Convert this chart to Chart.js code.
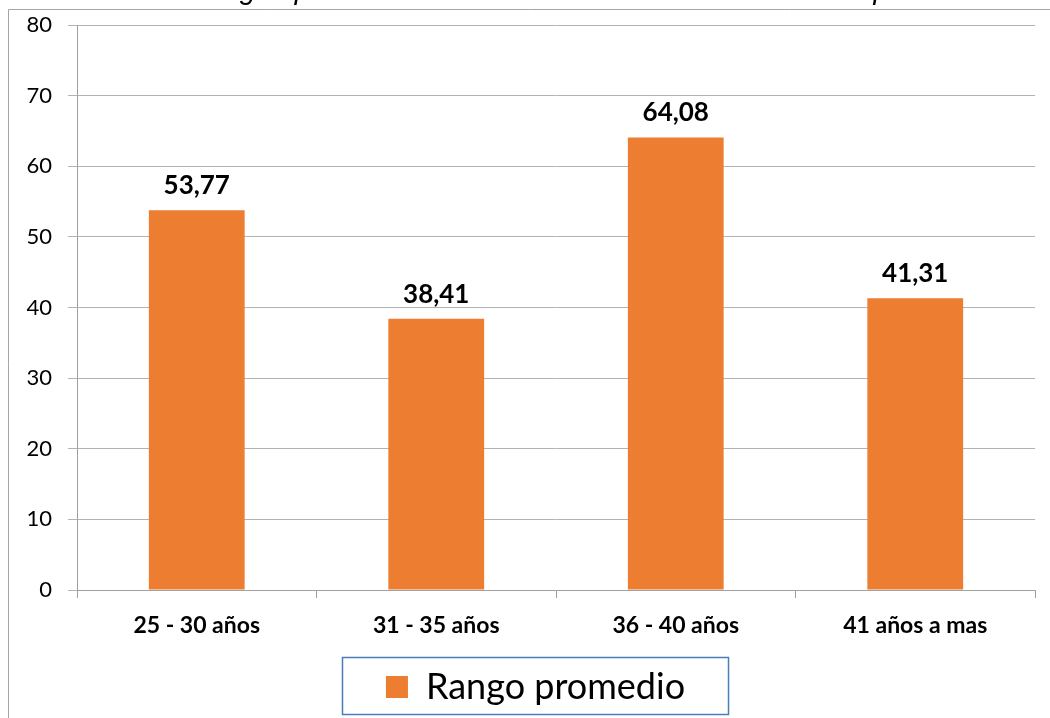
<!DOCTYPE html>
<html>
<head>
<meta charset="utf-8">
<script src="https://cdn.jsdelivr.net/npm/chart.js@4.4.1/dist/chart.umd.min.js"></script>
<style>
    html, body { margin: 0; padding: 0; background: #fff; }
    #wrap { width: 1050px; height: 718px; }
</style>
</head>
<body>
<div id="wrap"><canvas id="rangoChart" width="1050" height="718"></canvas></div>
<script>
// Datos
const categorias = ['25 - 30 años', '31 - 35 años', '36 - 40 años', '41 años a mas'];
const rangoPromedio = [53.77, 38.41, 64.08, 41.31];
const tituloGrafico = 'Rangos promedio de autoeficacia en el instrumento aplicado';
const serieNombre = 'Rango promedio';
const ejeYMin = 0;
const ejeYMax = 80;
const ejeYPaso = 10;

const naranja = '#ED7D31';

// Marco exterior y título (cortado arriba, como en la imagen)
const marcoPlugin = {
    id: 'marco',
    afterDraw(chart) {
        const ctx = chart.ctx;
        ctx.save();
        ctx.strokeStyle = '#a6a6a6';
        ctx.lineWidth = 1;
        ctx.beginPath();
        ctx.moveTo(8.5, chart.height);
        ctx.lineTo(8.5, 9.5);
        ctx.lineTo(chart.width, 9.5);
        ctx.stroke();

        ctx.fillStyle = '#000';
        ctx.font = 'italic 29px "Liberation Sans", Arial, sans-serif';
        ctx.textAlign = 'center';
        ctx.textBaseline = 'alphabetic';
        ctx.fillText(tituloGrafico, 576, -1);
        ctx.restore();
    }
};

// Etiquetas de valor encima de cada barra
const etiquetasPlugin = {
    id: 'etiquetas',
    afterDatasetsDraw(chart) {
        const ctx = chart.ctx;
        const meta = chart.getDatasetMeta(0);
        ctx.save();
        ctx.fillStyle = '#000';
        ctx.font = 'bold 26px Lato, sans-serif';
        ctx.textAlign = 'center';
        ctx.textBaseline = 'alphabetic';
        meta.data.forEach((bar, i) => {
            const txt = rangoPromedio[i].toFixed(2).replace('.', ',');
            ctx.fillText(txt, bar.x, bar.y - 16);
        });
        ctx.restore();
    }
};

// Leyenda: desplazar un poco y dibujar el recuadro azul
const leyendaPlugin = {
    id: 'leyendaMarco',
    afterLayout(chart) {
        chart.legend.left += 13;
        chart.legend.right += 13;
    },
    afterDraw(chart) {
        const lg = chart.legend;
        const hb = lg.legendHitBoxes[0];
        if (!hb) return;
        const ctx = chart.ctx;
        ctx.save();
        ctx.strokeStyle = '#4a7ebb';
        ctx.lineWidth = 1.5;
        const x1 = Math.round(hb.left - 44) + 0.5;
        const x2 = Math.round(hb.left + hb.width + 43) + 0.5;
        ctx.strokeRect(x1, Math.round(lg.top) + 0.5, x2 - x1, Math.round(lg.bottom - lg.top) - 1);
        ctx.restore();
    }
};

const ctx = document.getElementById('rangoChart').getContext('2d');
const myRangoChart = new Chart(ctx, {
    type: 'bar',
    data: {
        labels: categorias,
        datasets: [{
            label: serieNombre,
            data: rangoPromedio,
            backgroundColor: naranja,
            borderWidth: 0,
            categoryPercentage: 1,
            barPercentage: 0.4
        }]
    },
    options: {
        responsive: false,
        animation: false,
        layout: { padding: { left: 10, right: 15, top: 25, bottom: 3 } },
        plugins: {
            title: { display: false },
            tooltip: { enabled: false },
            legend: {
                position: 'bottom',
                labels: {
                    color: '#000',
                    font: { family: 'Lato, sans-serif', size: 36 },
                    boxWidth: 22,
                    boxHeight: 22,
                    padding: 12
                }
            }
        },
        scales: {
            x: {
                afterFit(scale) { scale.height = 67; },
                grid: { drawOnChartArea: false, drawTicks: true, tickLength: 8, color: '#a0a0a0' },
                border: { color: '#a0a0a0' },
                ticks: {
                    color: '#000',
                    font: { family: 'Lato, sans-serif', size: 23, weight: 'bold' },
                    padding: 14
                }
            },
            y: {
                min: ejeYMin,
                max: ejeYMax,
                afterFit(scale) {
                    scale.width = 67;
                    scale.paddingTop = 0;   // el área empieza justo en padding.top
                },
                grid: { color: '#b3b3b3', tickLength: 9 },
                border: { color: '#a0a0a0' },
                ticks: {
                    stepSize: ejeYPaso,
                    color: '#000',
                    font: { family: 'Lato, sans-serif', size: 22 },
                    padding: 16
                }
            }
        }
    },
    plugins: [marcoPlugin, etiquetasPlugin, leyendaPlugin]
});
</script>
</body>
</html>
